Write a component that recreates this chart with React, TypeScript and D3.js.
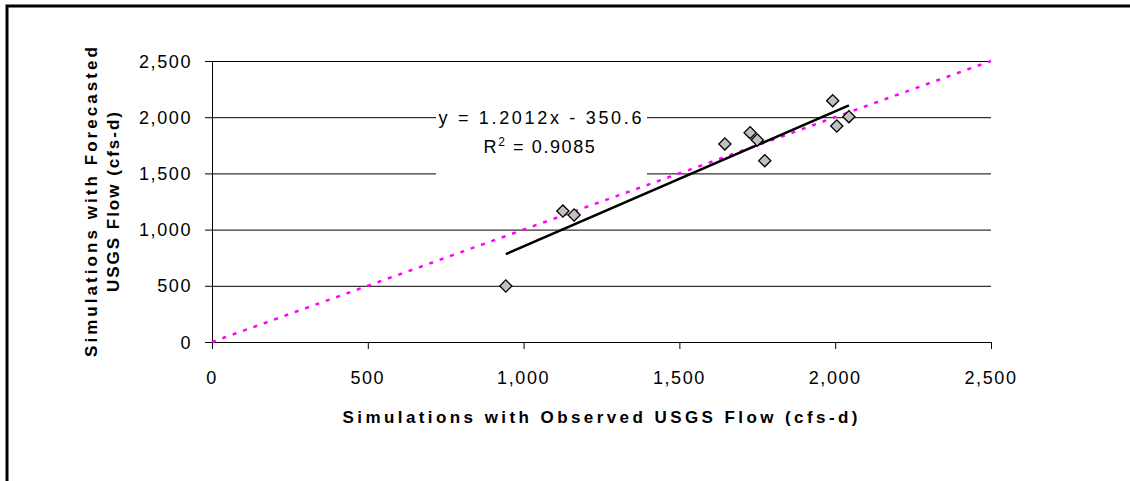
import React, { useEffect, useRef } from "react";
import * as d3 from "d3";

// observed vs forecasted flow (cfs-d)
const observedFlow = [943, 1126, 1162, 1646, 1727, 1750, 1774, 1992, 2005, 2044];
const forecastFlow = [498, 1165, 1130, 1762, 1862, 1797, 1613, 2147, 1922, 2005];
const tickValues = [0, 500, 1000, 1500, 2000, 2500];
const fitSlope = 1.2012;
const fitIntercept = -350.6;

const App = () => {
  const ref = useRef<SVGSVGElement>(null);

  useEffect(() => {
    const width = 1130;
    const height = 481;
    const svg = d3.select(ref.current);
    svg.selectAll("*").remove();

    const font = "'Liberation Sans', Arial, sans-serif";

    // outer frame (only top and left edges are visible)
    svg
      .append("rect")
      .attr("x", 7)
      .attr("y", 6)
      .attr("width", 1400)
      .attr("height", 800)
      .attr("fill", "white")
      .attr("stroke", "black")
      .attr("stroke-width", 3);

    const x = d3.scaleLinear().domain([0, 2500]).range([212, 991]);
    const y = d3.scaleLinear().domain([0, 2500]).range([342, 61]);

    // horizontal gridlines
    svg
      .append("g")
      .selectAll("line")
      .data(tickValues)
      .enter()
      .append("line")
      .attr("x1", x(0))
      .attr("x2", x(2500))
      .attr("y1", (d) => y(d) + 0.5)
      .attr("y2", (d) => y(d) + 0.5)
      .attr("stroke", "#000")
      .attr("stroke-width", 1);

    // white box behind the equation
    svg
      .append("rect")
      .attr("x", 436)
      .attr("y", 96)
      .attr("width", 211)
      .attr("height", 84)
      .attr("fill", "white");

    // y axis
    svg
      .append("line")
      .attr("x1", x(0) + 0.5)
      .attr("x2", x(0) + 0.5)
      .attr("y1", y(2500))
      .attr("y2", y(0))
      .attr("stroke", "#000");
    svg
      .append("g")
      .selectAll("line")
      .data(tickValues)
      .enter()
      .append("line")
      .attr("x1", x(0) - 7)
      .attr("x2", x(0))
      .attr("y1", (d) => y(d) + 0.5)
      .attr("y2", (d) => y(d) + 0.5)
      .attr("stroke", "#000");
    svg
      .append("g")
      .selectAll("text")
      .data(tickValues)
      .enter()
      .append("text")
      .attr("x", 192)
      .attr("y", (d) => y(d) + 6.5)
      .attr("text-anchor", "end")
      .attr("font-family", font)
      .attr("font-size", 18)
      .attr("letter-spacing", 1.6)
      .text((d) => d3.format(",")(d));

    // x axis
    svg
      .append("line")
      .attr("x1", x(0) - 7)
      .attr("x2", x(2500))
      .attr("y1", y(0) + 0.5)
      .attr("y2", y(0) + 0.5)
      .attr("stroke", "#000");
    svg
      .append("g")
      .selectAll("line")
      .data(tickValues)
      .enter()
      .append("line")
      .attr("x1", (d) => x(d) + 0.5)
      .attr("x2", (d) => x(d) + 0.5)
      .attr("y1", y(0))
      .attr("y2", y(0) + 7)
      .attr("stroke", "#000");
    svg
      .append("g")
      .selectAll("text")
      .data(tickValues)
      .enter()
      .append("text")
      .attr("x", (d) => x(d))
      .attr("y", 384)
      .attr("text-anchor", "middle")
      .attr("font-family", font)
      .attr("font-size", 18)
      .attr("letter-spacing", 1.6)
      .text((d) => d3.format(",")(d));

    // 1:1 line
    svg
      .append("line")
      .attr("x1", x(0))
      .attr("y1", y(0))
      .attr("x2", x(2500))
      .attr("y2", y(2500))
      .attr("stroke", "#FF00FF")
      .attr("stroke-width", 2.5)
      .attr("stroke-dasharray", "4,7");

    // linear trendline
    const xMin = d3.min(observedFlow) as number;
    const xMax = d3.max(observedFlow) as number;
    svg
      .append("line")
      .attr("x1", x(xMin))
      .attr("y1", y(fitSlope * xMin + fitIntercept))
      .attr("x2", x(xMax))
      .attr("y2", y(fitSlope * xMax + fitIntercept))
      .attr("stroke", "#000")
      .attr("stroke-width", 2.5);

    // points
    const diamond = d3.symbol().type(d3.symbolSquare).size(74);
    svg
      .append("g")
      .selectAll("path")
      .data(observedFlow.map((o, i) => [o, forecastFlow[i]]))
      .enter()
      .append("path")
      .attr("d", diamond)
      .attr("transform", (d) => `translate(${x(d[0])},${y(d[1])}) rotate(45)`)
      .attr("fill", "#C0C0C0")
      .attr("stroke", "#000")
      .attr("stroke-width", 1.3);

    // equation
    svg
      .append("text")
      .attr("x", 540)
      .attr("y", 124)
      .attr("text-anchor", "middle")
      .attr("font-family", font)
      .attr("font-size", 18)
      .attr("textLength", 203)
      .attr("lengthAdjust", "spacing")
      .text(`y = ${fitSlope}x - ${Math.abs(fitIntercept)}`);
    const r2 = svg
      .append("text")
      .attr("x", 540)
      .attr("y", 153)
      .attr("text-anchor", "middle")
      .attr("font-family", font)
      .attr("font-size", 18)
      .attr("letter-spacing", 1.6);
    r2.append("tspan").text("R");
    r2.append("tspan").attr("dy", -7).attr("font-size", 12).text("2");
    r2.append("tspan").attr("dy", 7).text(" = 0.9085");

    // axis titles
    svg
      .append("text")
      .attr("x", 600)
      .attr("y", 423)
      .attr("text-anchor", "middle")
      .attr("font-family", font)
      .attr("font-weight", "bold")
      .attr("font-size", 17)
      .attr("textLength", 515)
      .attr("lengthAdjust", "spacing")
      .text("Simulations with Observed USGS Flow (cfs-d)");

    const yTitle = svg
      .append("g")
      .attr("transform", "translate(97,202) rotate(-90)");
    yTitle
      .append("text")
      .attr("x", 0)
      .attr("y", 0)
      .attr("text-anchor", "middle")
      .attr("font-family", font)
      .attr("font-weight", "bold")
      .attr("font-size", 17)
      .attr("textLength", 310)
      .attr("lengthAdjust", "spacing")
      .text("Simulations with Forecasted");
    yTitle
      .append("text")
      .attr("x", 0)
      .attr("y", 22)
      .attr("text-anchor", "middle")
      .attr("font-family", font)
      .attr("font-weight", "bold")
      .attr("font-size", 17)
      .attr("textLength", 180)
      .attr("lengthAdjust", "spacing")
      .text("USGS Flow (cfs-d)");

    svg.attr("width", width).attr("height", height);
  }, []);

  return (
    <svg
      ref={ref}
      width={1130}
      height={481}
      style={{ position: "absolute", top: 0, left: 0, background: "white" }}
    />
  );
};

export default App;
